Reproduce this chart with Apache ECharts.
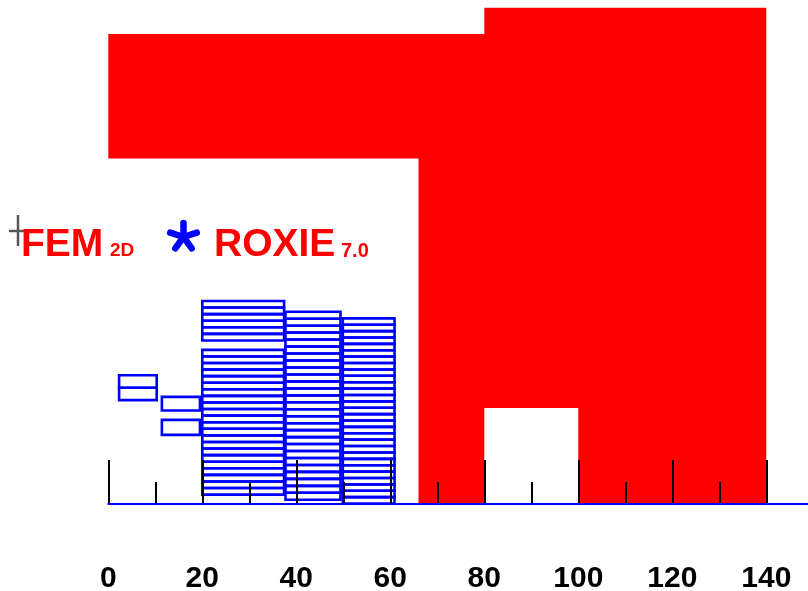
<!DOCTYPE html>
<html>
<head>
<meta charset="utf-8">
<script src="https://cdn.jsdelivr.net/npm/echarts@6/dist/echarts.min.js"></script>
<style>
  html, body { margin: 0; padding: 0; background: #ffffff; }
  #chart { width: 808px; height: 591px; }
</style>
</head>
<body>
<div id="chart"></div>
<script>
// Horizontal axis (mm)
const tickValues = [0, 20, 40, 60, 80, 100, 120, 140];
const axisMin = 0;
const axisMax = 140;

// Iron yoke outline (mm), vertex by vertex
const yokeX = [0, 80, 80, 140, 140, 100, 100, 80, 80, 66, 66, 0];
const yokeY = [100, 100, 105.6, 105.6, 0, 0, 20.4, 20.4, 0, 0, 73.5, 73.5];

// Coil blocks (mm): horizontal extent, vertical extent, number of cables stacked in each block
const blockX1 = [2.3, 11.4, 11.4, 20.0, 20.0, 37.7, 49.9];
const blockX2 = [10.3, 19.5, 19.5, 37.4, 37.4, 49.4, 60.9];
const blockY1 = [22.1, 19.9, 14.7, 34.8, 2.0, 0.9, 0.1];
const blockY2 = [27.4, 22.8, 17.9, 43.2, 32.8, 40.9, 39.5];
const blockCables = [2, 1, 1, 6, 22, 27, 29];

// One rectangle per cable: [x1, x2, yLow, yHigh]
const cables = [];
blockX1.forEach(function (x1, b) {
  const h = (blockY2[b] - blockY1[b]) / blockCables[b];
  for (let k = 0; k < blockCables[b]; k++) {
    cables.push([x1, blockX2[b], blockY1[b] + k * h, blockY1[b] + (k + 1) * h]);
  }
});

const chart = echarts.init(document.getElementById('chart'), null, { renderer: 'canvas' });

const plotLeft = 108.3;
const plotBottom = 87;
const pxPerMm = 4.7;
const yMax = (591 - plotBottom) / pxPerMm;
const baseMax = (808 - plotLeft) / pxPerMm;

const font = 'Liberation Sans, Arial, Helvetica, sans-serif';

function starArms(cx, cy, r) {
  const arms = [];
  for (let i = 0; i < 5; i++) {
    const a = -Math.PI / 2 + i * 2 * Math.PI / 5;
    arms.push({
      type: 'line',
      shape: { x1: cx, y1: cy, x2: cx + r * Math.cos(a), y2: cy + r * Math.sin(a) },
      style: { stroke: '#0000ff', lineWidth: 6.5, lineCap: 'round' }
    });
  }
  return arms;
}

const option = {
  backgroundColor: '#ffffff',
  animation: false,
  grid: [
    { left: plotLeft, right: 808 - (plotLeft + axisMax * pxPerMm), top: 0, bottom: plotBottom,
      containLabel: false, outerBoundsMode: 'none' },
    { left: plotLeft, right: 0, top: 0, bottom: plotBottom,
      containLabel: false, outerBoundsMode: 'none' }
  ],
  xAxis: [
    {
      gridIndex: 0, type: 'value', min: axisMin, max: axisMax, interval: 20,
      z: 10,
      axisLine: { show: false },
      splitLine: { show: false },
      axisTick: { show: true, inside: true, length: 44, lineStyle: { color: '#000000', width: 2 } },
      minorTick: { show: true, splitNumber: 2, length: 22, lineStyle: { color: '#000000', width: 2 } },
      axisLabel: {
        show: true, margin: 60, color: '#000000', fontSize: 30, fontWeight: 'bold', fontFamily: font,
        formatter: function (v) { return tickValues.indexOf(v) >= 0 ? String(v) : ''; }
      }
    },
    {
      gridIndex: 1, type: 'value', min: 0, max: baseMax,
      z: 20,
      axisLine: { show: true, onZero: false, lineStyle: { color: '#0000ff', width: 2 } },
      axisTick: { show: false }, axisLabel: { show: false }, splitLine: { show: false }
    }
  ],
  yAxis: [
    { gridIndex: 0, type: 'value', min: 0, max: yMax, show: false },
    { gridIndex: 1, type: 'value', min: 0, max: yMax, show: false }
  ],
  series: [
    {
      name: 'yoke', type: 'custom', xAxisIndex: 0, yAxisIndex: 0, z: 2,
      data: [[yokeX[0], yokeY[0]]],
      renderItem: function (params, api) {
        const pts = yokeX.map(function (x, i) { return api.coord([x, yokeY[i]]); });
        return { type: 'polygon', shape: { points: pts }, style: { fill: '#ff0000', stroke: 'none' } };
      }
    },
    {
      name: 'coil', type: 'custom', xAxisIndex: 0, yAxisIndex: 0, z: 3,
      data: cables,
      encode: { x: [0, 1], y: [2, 3] },
      renderItem: function (params, api) {
        const p1 = api.coord([api.value(0), api.value(3)]);
        const p2 = api.coord([api.value(1), api.value(2)]);
        return {
          type: 'rect',
          shape: { x: p1[0], y: p1[1], width: p2[0] - p1[0], height: p2[1] - p1[1] },
          style: { fill: 'none', stroke: '#0000ff', lineWidth: 2.6 }
        };
      }
    }
  ],
  graphic: [
    { type: 'text', left: 21, top: 226, z: 50, style: { text: 'FEM', font: 'bold 39px ' + font, fill: '#ff0000' } },
    { type: 'text', left: 110, top: 241, z: 50, style: { text: '2D', font: 'bold 19px ' + font, fill: '#ff0000' } },
    { type: 'text', left: 214, top: 226, z: 50, style: { text: 'ROXIE', font: 'bold 39px ' + font, fill: '#ff0000' } },
    { type: 'text', left: 341, top: 241, z: 50, style: { text: '7.0', font: 'bold 20px ' + font, fill: '#ff0000' } },
    { type: 'group', z: 60, children: [
      { type: 'line', shape: { x1: 9, y1: 231, x2: 36, y2: 231 }, style: { stroke: '#555555', lineWidth: 2.5 } },
      { type: 'line', shape: { x1: 18, y1: 215, x2: 18, y2: 246 }, style: { stroke: '#555555', lineWidth: 2.5 } }
    ] },
    { type: 'group', z: 60, children: starArms(183.5, 237, 14) }
  ]
};

chart.setOption(option);
</script>
</body>
</html>
